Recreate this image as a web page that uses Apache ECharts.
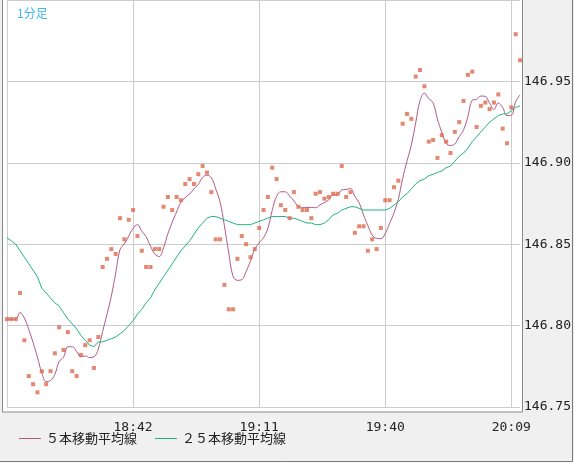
<!DOCTYPE html>
<html>
<head>
<meta charset="utf-8">
<script src="https://cdn.jsdelivr.net/npm/echarts@6/dist/echarts.min.js"></script>
<style>
  html, body { margin: 0; padding: 0; background: #f0f0f0; }
  #chart { width: 574px; height: 462px; }
</style>
</head>
<body>
<div id="chart"></div>
<script>
// 1-minute prices, first point at 18:13
const startMinute = 18 * 60 + 13;
const prices = [
  146.804, 146.804, 146.804, 146.820, 146.791, 146.769, 146.764, 146.759, 146.772, 146.764,
  146.772, 146.783, 146.799, 146.785, 146.796, 146.772, 146.769, 146.782, 146.788, 146.791,
  146.774, 146.793, 146.836, 146.841, 146.847, 146.844, 146.866, 146.853, 146.865, 146.871,
  146.855, 146.846, 146.836, 146.836, 146.847, 146.847, 146.873, 146.879, 146.871, 146.879,
  146.877, 146.887, 146.890, 146.887, 146.893, 146.898, 146.894, 146.882, 146.853, 146.853,
  146.825, 146.810, 146.810, 146.841, 146.855, 146.850, 146.842, 146.847, 146.860, 146.871,
  146.879, 146.897, 146.890, 146.874, 146.871, 146.866, 146.882, 146.873, 146.871, 146.871,
  146.866, 146.881, 146.882, 146.878, 146.879, 146.881, 146.881, 146.898, 146.879, 146.882,
  146.857, 146.861, 146.861, 146.846, 146.853, 146.847, 146.860, 146.877, 146.877, 146.885,
  146.889, 146.924, 146.930, 146.927, 146.953, 146.957, 146.947, 146.913, 146.914, 146.903,
  146.917, 146.913, 146.906, 146.919, 146.925, 146.938, 146.954, 146.956, 146.922, 146.935,
  146.937, 146.933, 146.937, 146.942, 146.921, 146.912, 146.934, 146.979, 146.963
];

// 25-period average (includes history before the window)
const ma25 = [
  146.854, 146.852, 146.850, 146.846, 146.842, 146.838, 146.834, 146.830, 146.823, 146.820,
  146.817, 146.814, 146.812, 146.808, 146.804, 146.801, 146.798, 146.794, 146.791, 146.788,
  146.787, 146.790, 146.790, 146.791, 146.792, 146.793, 146.795, 146.797, 146.800, 146.803,
  146.807, 146.810, 146.814, 146.817, 146.822, 146.826, 146.830, 146.834, 146.838, 146.842,
  146.846, 146.849, 146.852, 146.856, 146.860, 146.863, 146.866, 146.867, 146.867, 146.866,
  146.865, 146.864, 146.863, 146.862, 146.862, 146.862, 146.862, 146.863, 146.864, 146.865,
  146.866, 146.867, 146.867, 146.867, 146.867, 146.866, 146.866, 146.865, 146.864, 146.863,
  146.863, 146.862, 146.862, 146.863, 146.865, 146.868, 146.869, 146.871, 146.872, 146.873,
  146.873, 146.872, 146.871, 146.871, 146.871, 146.871, 146.871, 146.871, 146.872, 146.874,
  146.876, 146.879, 146.881, 146.884, 146.887, 146.889, 146.890, 146.892, 146.893, 146.894,
  146.895, 146.897, 146.898, 146.901, 146.904, 146.906, 146.909, 146.913, 146.916, 146.919,
  146.922, 146.925, 146.927, 146.929, 146.930, 146.930, 146.932, 146.934, 146.935
];

const yTicks = [146.75, 146.80, 146.85, 146.90, 146.95];
const seriesNames = ['５本移動平均線', '２５本移動平均線'];

const times = prices.map(function (p, i) {
  const m = startMinute + i;
  return Math.floor(m / 60) + ':' + String(m % 60).padStart(2, '0');
});

// simple 5-period moving average of the prices
const ma5 = prices.map(function (p, i) {
  const win = prices.slice(Math.max(0, i - 4), i + 1);
  return +(win.reduce(function (a, b) { return a + b; }, 0) / win.length).toFixed(4);
});

const chart = echarts.init(document.getElementById('chart'));
const axisFont = { fontFamily: 'DejaVu Sans Mono', fontSize: 13, color: '#222' };

chart.setOption({
  animation: false,
  backgroundColor: '#f0f0f0',
  title: {
    text: '1分足', left: 12, top: 2,
    textStyle: { color: '#3bb8ee', fontSize: 12, fontWeight: 'normal', fontFamily: 'Noto Sans CJK JP' }
  },
  graphic: [
    { type: 'rect', z: -1, silent: true, shape: { x: 2, y: 0, width: 521, height: 412 }, style: { fill: '#fff' } },
    { type: 'rect', z: 100, silent: true, shape: { x: 2.5, y: -1, width: 520, height: 413 }, style: { fill: null, stroke: '#888', lineWidth: 1 } },
    { type: 'rect', z: 100, silent: true, shape: { x: -1, y: -1, width: 573.5, height: 462.5 }, style: { fill: null, stroke: '#777', lineWidth: 1 } }
  ],
  legend: {
    data: seriesNames, left: 14, bottom: 12, itemWidth: 22, itemHeight: 1, itemGap: 18,
    icon: 'rect',
    textStyle: { fontFamily: 'Noto Sans CJK JP', fontSize: 13, color: '#222' }
  },
  grid: { left: 7, right: 51, top: 0, bottom: 55 },
  xAxis: {
    type: 'category', data: times, boundaryGap: false,
    axisLine: { show: false }, axisTick: { show: false },
    axisLabel: Object.assign({ margin: 14, interval: function (i) { return i > 0 && i % 29 === 0; } }, axisFont),
    splitLine: { show: true, interval: function (i) { return i % 29 === 0; }, lineStyle: { color: '#ccc' } }
  },
  yAxis: {
    type: 'value', position: 'right', min: 146.75, max: 147.0, interval: 0.05,
    axisLine: { show: false }, axisTick: { show: false },
    axisLabel: Object.assign({
      margin: 4,
      formatter: function (v) { return yTicks.some(function (t) { return Math.abs(t - v) < 1e-6; }) ? v.toFixed(2) : ''; }
    }, axisFont),
    splitLine: { lineStyle: { color: '#ccc' } }
  },
  series: [
    {
      name: seriesNames[0], type: 'line', data: ma5, smooth: 0.4, symbol: 'none',
      lineStyle: { color: '#b05a84', width: 1 }, itemStyle: { color: '#b05a84' }, z: 3
    },
    {
      name: seriesNames[1], type: 'line', data: ma25, symbol: 'none',
      lineStyle: { color: '#20b283', width: 1 }, itemStyle: { color: '#20b283' }, z: 3
    },
    {
      name: 'price', type: 'scatter', data: prices, symbol: 'rect', symbolSize: 4,
      itemStyle: { color: '#dd6a4e' }, z: 4
    }
  ]
});
</script>
</body>
</html>
